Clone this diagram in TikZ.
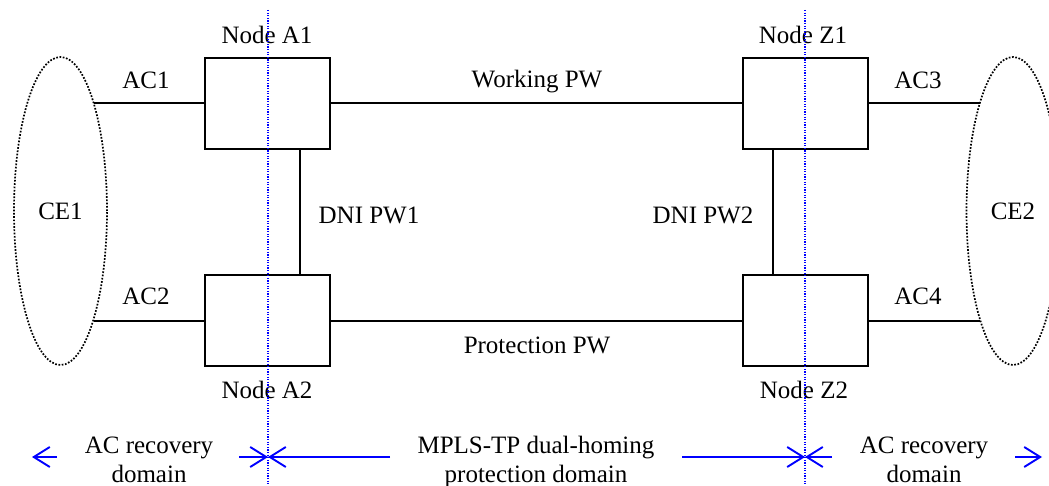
\documentclass[tikz,border=0pt]{standalone}
\usepackage{fontspec}
\setmainfont{Liberation Serif}
\usetikzlibrary{shapes.geometric,arrows.meta}
\begin{document}
\begin{tikzpicture}[x=1pt,y=-1pt,
  box/.style={draw,line width=2pt,minimum width=125pt,minimum height=91pt,inner sep=0pt},
  ce/.style={ellipse,draw,line width=1.7pt,dash pattern=on 1.7pt off 1.6pt,minimum width=93pt,minimum height=308pt,inner sep=0pt,font=\fontsize{25}{29}\selectfont},
  lbl/.style={font=\fontsize{25}{29}\selectfont,anchor=base,inner sep=0pt},
  dlbl/.style={font=\fontsize{25}{29}\selectfont,align=center,anchor=base,inner sep=0pt},
  link/.style={line width=2pt},
  sep/.style={blue,line width=1.1pt,dash pattern=on 1.3pt off 1.3pt},
  dom/.style={blue,line width=1.9pt,-{Straight Barb[length=16pt,width=20pt,line width=1.9pt]}},
  ]
\useasboundingbox (0,0) rectangle (1049,486);

% customer edges
\node[ce] (ce1) at (60.5,211) {CE1};
\node[ce] (ce2) at (1013,211) {CE2};

% PE nodes
\node[box] (a1) at (267.5,103.5) {};
\node[box] (a2) at (267.5,320.5) {};
\node[box] (z1) at (805.5,103.5) {};
\node[box] (z2) at (805.5,320.5) {};

% attachment circuits
\draw[link] (ce1.73 |- a1.west) -- (a1.west);
\draw[link] (ce1.287 |- a2.west) -- (a2.west);
\draw[link] (z1.east) -- (ce2.107 |- z1.east);
\draw[link] (z2.east) -- (ce2.253 |- z2.east);

% pseudowires
\draw[link] (a1.east) -- (z1.west);
\draw[link] (a2.east) -- (z2.west);
\draw[link] ([xshift=32.5pt]a1.south) -- ([xshift=32.5pt]a2.north);
\draw[link] ([xshift=-32.5pt]z1.south) -- ([xshift=-32.5pt]z2.north);

% labels
\node[lbl] (la1) at (267,44) {Node A1};
\node[lbl] (lz1) at (803,44) {Node Z1};
\node[lbl] (la2) at (267,398) {Node A2};
\node[lbl] (lz2) at (804,398) {Node Z2};
\node[lbl] (lwp) at (537,88) {Working PW};
\node[lbl] (lpp) at (537,353) {Protection PW};
\node[lbl] (ld1) at (369,224) {DNI PW1};
\node[lbl] (ld2) at (703,224) {DNI PW2};
\node[lbl] (lac1) at (146,89) {AC1};
\node[lbl] (lac2) at (146,305) {AC2};
\node[lbl] (lac3) at (918,89) {AC3};
\node[lbl] (lac4) at (918,305) {AC4};

% domain separators
\coordinate (s1t) at (268,10);
\coordinate (s1b) at (268,486);
\coordinate (s2t) at (805,10);
\coordinate (s2b) at (805,486);
\draw[sep] (s1t) -- (s1b);
\draw[sep] (s2t) -- (s2b);

% domain arrows
\coordinate (d1) at (57,457);
\coordinate (d1t) at (32,457);
\coordinate (d2) at (239,457);
\coordinate (d3) at (390,457);
\coordinate (d4) at (682,457);
\coordinate (d5) at (832,457);
\coordinate (d6) at (1015,457);
\coordinate (d6t) at (1042,457);
\draw[dom] (d1) -- (d1t);
\draw[dom] (d2) -- (s1t |- d2);
\draw[dom] (d3) -- (s1t |- d3);
\draw[dom] (d4) -- (s2t |- d4);
\draw[dom] (d5) -- (s2t |- d5);
\draw[dom] (d6) -- (d6t);

\node[dlbl] (dom1) at (149,482) {AC recovery\\domain};
\node[dlbl] (dom2) at (536,482) {MPLS-TP dual-homing\\protection domain};
\node[dlbl] (dom3) at (924,482) {AC recovery\\domain};
\end{tikzpicture}
\end{document}
